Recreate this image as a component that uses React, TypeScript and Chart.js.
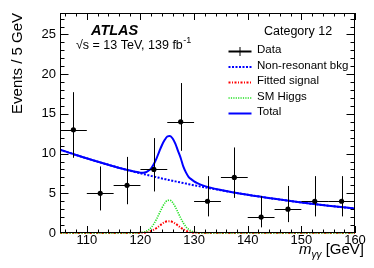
import React, { useEffect, useRef } from "react";
import { Chart, registerables } from "chart.js";

Chart.register(...registerables);

const FONT = '"Liberation Sans", Arial, Helvetica, sans-serif';

// ---- data ----
const binCenters = [107.5, 112.5, 117.5, 122.5, 127.5, 132.5, 137.5, 142.5, 147.5, 152.5, 157.5];
const binHalfWidth = 2.5;
const dataCounts = [13, 5, 6, 8, 14, 4, 7, 2, 3, 4, 4];
const errLow = [3.53, 2.16, 2.38, 2.77, 3.65, 1.91, 2.58, 1.29, 1.63, 1.91, 1.91];
const errHigh = [4.73, 3.38, 3.58, 3.95, 4.88, 3.16, 3.77, 2.64, 2.92, 3.16, 3.16];

const curveMass = [105, 108, 111, 114, 117, 119, 120, 120.5, 121, 121.5, 122, 122.5, 123, 123.5, 124, 124.5, 125, 125.5, 126, 126.5, 127, 127.5, 128, 128.5, 129, 129.5, 130, 130.5, 132, 135, 140, 145, 150, 155, 160];
const bkgValues = [10.5, 9.82, 9.19, 8.59, 8.03, 7.68, 7.51, 7.43, 7.35, 7.27, 7.19, 7.11, 7.03, 6.95, 6.87, 6.8, 6.72, 6.65, 6.57, 6.5, 6.43, 6.36, 6.29, 6.22, 6.15, 6.08, 6.01, 5.95, 5.75, 5.38, 4.81, 4.3, 3.85, 3.44, 3.08];
const totalValues = [10.5, 9.82, 9.19, 8.59, 8.03, 7.72, 7.6, 7.58, 7.65, 7.85, 8.15, 8.68, 9.4, 10.25, 11.05, 11.7, 12.15, 12.22, 11.9, 11.25, 10.35, 9.45, 8.35, 7.6, 7.05, 6.75, 6.5, 6.3, 5.9, 5.42, 4.81, 4.3, 3.85, 3.44, 3.08];
const smHiggsValues = [0, 0, 0, 0, 0, 0, 0.05, 0.1, 0.2, 0.39, 0.7, 1.15, 1.75, 2.44, 3.15, 3.74, 4.09, 4.12, 3.83, 3.28, 2.59, 1.88, 1.26, 0.78, 0.44, 0.23, 0.11, 0.05, 0, 0, 0, 0, 0, 0, 0];
const fittedSignalValues = [0, 0, 0, 0, 0, 0, 0.02, 0.03, 0.07, 0.14, 0.25, 0.42, 0.63, 0.88, 1.14, 1.35, 1.48, 1.49, 1.38, 1.19, 0.94, 0.68, 0.46, 0.28, 0.16, 0.08, 0.04, 0.02, 0, 0, 0, 0, 0, 0, 0];

const xTickValues = [110, 120, 130, 140, 150, 160];
const yTickValues = [0, 5, 10, 15, 20, 25];
const xMin = 105;
const xMax = 160;
const yMin = 0;
const yMax = 27.7;

const legendLabels = ["Data", "Non-resonant bkg", "Fitted signal", "SM Higgs", "Total"];

// ---- styles ----
const BLUE = "#0000ff";
const RED = "#ff0000";
const GREEN = "#22e022";

const pts = (vals: number[]) => curveMass.map((m, i) => ({ x: m, y: vals[i] }));

const atlasPlugin = {
  id: "atlasDecor",
  afterDatasetsDraw(chart: any) {
    const ctx: CanvasRenderingContext2D = chart.ctx;
    const xs = chart.scales.x;
    const ys = chart.scales.y;
    const { left, right, top, bottom } = chart.chartArea;
    ctx.save();

    // error bars
    ctx.strokeStyle = "#000";
    ctx.lineWidth = 1;
    binCenters.forEach((c, i) => {
      const px = Math.round(xs.getPixelForValue(c)) + 0.5;
      const py = Math.round(ys.getPixelForValue(dataCounts[i])) + 0.5;
      const x0 = xs.getPixelForValue(c - binHalfWidth);
      const x1 = xs.getPixelForValue(c + binHalfWidth);
      const yLo = ys.getPixelForValue(dataCounts[i] - errLow[i]);
      const yHi = ys.getPixelForValue(dataCounts[i] + errHigh[i]);
      ctx.beginPath();
      ctx.moveTo(x0, py);
      ctx.lineTo(x1, py);
      ctx.moveTo(px, yLo);
      ctx.lineTo(px, yHi);
      ctx.stroke();
    });

    // frame
    ctx.strokeStyle = "#000";
    ctx.lineWidth = 1;
    ctx.strokeRect(left + 0.5, top + 0.5, right - left - 1, bottom - top - 1);

    // ticks
    ctx.beginPath();
    for (let v = 106; v <= xMax; v += 2) {
      const major = xTickValues.includes(v);
      const len = major ? 7 : 3.5;
      const px = Math.round(xs.getPixelForValue(v)) + 0.5;
      ctx.moveTo(px, bottom);
      ctx.lineTo(px, bottom - len);
      ctx.moveTo(px, top);
      ctx.lineTo(px, top + len);
    }
    for (let v = 1; v <= 27; v += 1) {
      const major = yTickValues.includes(v);
      const len = major ? 8.5 : 4.5;
      const py = Math.round(ys.getPixelForValue(v)) + 0.5;
      ctx.moveTo(left, py);
      ctx.lineTo(left + len, py);
      ctx.moveTo(right, py);
      ctx.lineTo(right - len, py);
    }
    ctx.stroke();

    // ATLAS label
    ctx.fillStyle = "#000";
    ctx.textBaseline = "alphabetic";
    ctx.textAlign = "left";
    ctx.font = `italic bold 14.5px ${FONT}`;
    ctx.fillText("ATLAS", 91, 35);

    ctx.font = `12.5px ${FONT}`;
    const main = "\u221As = 13 TeV, 139 fb";
    ctx.fillText(main, 76, 49);
    const wMain = ctx.measureText(main).width;
    ctx.font = `9px ${FONT}`;
    ctx.fillText("-1", 76 + wMain + 0.5, 43);

    // Category
    ctx.font = `12.5px ${FONT}`;
    ctx.fillText("Category 12", 264, 35);

    // legend
    const rowY = [50, 65.5, 81, 96.5, 112];
    const lx0 = 228.5;
    const lx1 = 251.5;
    ctx.font = `11.5px ${FONT}`;
    ctx.textBaseline = "middle";
    const styles: any[] = [
      null,
      { c: BLUE, d: [2, 1.5], w: 2 },
      { c: RED, d: [2, 1.5, 1, 1.5], w: 2 },
      { c: GREEN, d: [1.2, 1.2], w: 1.6 },
      { c: BLUE, d: [], w: 2 },
    ];
    legendLabels.forEach((lab, i) => {
      const y = rowY[i];
      const ly = y + 1.5;
      ctx.save();
      if (i === 0) {
        ctx.strokeStyle = "#000";
        ctx.lineWidth = 2;
        ctx.beginPath();
        ctx.moveTo(lx0, ly);
        ctx.lineTo(lx1, ly);
        ctx.stroke();
        ctx.lineWidth = 1;
        ctx.beginPath();
        ctx.moveTo((lx0 + lx1) / 2, ly - 4.5);
        ctx.lineTo((lx0 + lx1) / 2, ly + 4.5);
        ctx.stroke();
      } else {
        const s = styles[i];
        ctx.strokeStyle = s.c;
        ctx.lineWidth = s.w;
        ctx.setLineDash(s.d);
        ctx.beginPath();
        ctx.moveTo(lx0, ly);
        ctx.lineTo(lx1, ly);
        ctx.stroke();
      }
      ctx.restore();
      ctx.fillStyle = "#000";
      ctx.fillText(lab, 257, y);
    });

    // x-axis title
    ctx.textBaseline = "alphabetic";
    ctx.font = `italic 15px ${FONT}`;
    const wm = ctx.measureText("m").width;
    ctx.font = `italic 10px ${FONT}`;
    const wg = ctx.measureText("\u03B3\u03B3").width;
    ctx.font = `15px ${FONT}`;
    const rest = " [GeV]";
    const wr = ctx.measureText(rest).width;
    let x = 364 - (wm + wg + wr);
    ctx.font = `italic 15px ${FONT}`;
    ctx.fillText("m", x, 253.5);
    x += wm;
    ctx.font = `italic 10px ${FONT}`;
    ctx.fillText("\u03B3\u03B3", x, 257.5);
    x += wg;
    ctx.font = `15px ${FONT}`;
    ctx.fillText(rest, x, 253.5);

    // y-axis title
    ctx.save();
    ctx.translate(18, 13);
    ctx.rotate(-Math.PI / 2);
    ctx.textAlign = "right";
    ctx.textBaseline = "middle";
    ctx.font = `15px ${FONT}`;
    ctx.fillText("Events / 5 GeV", 0, 0);
    ctx.restore();

    ctx.restore();
  },
};

export default function App() {
  const ref = useRef<HTMLCanvasElement | null>(null);
  useEffect(() => {
    if (!ref.current) return;
    const chart = new Chart(ref.current, {
      type: "line",
      data: {
        datasets: [
          {
            label: "Data",
            data: binCenters.map((c, i) => ({ x: c, y: dataCounts[i] })),
            showLine: false,
            pointRadius: 2.6,
            pointBackgroundColor: "#000",
            pointBorderWidth: 0,
            borderColor: "#000",
          },
          {
            label: "SM Higgs",
            data: pts(smHiggsValues),
            borderColor: GREEN,
            borderWidth: 1.6,
            borderDash: [1.2, 1.2],
            pointRadius: 0,
            cubicInterpolationMode: "monotone",
            clip: 2,
          },
          {
            label: "Fitted signal",
            data: pts(fittedSignalValues),
            borderColor: RED,
            borderWidth: 2,
            borderDash: [2, 1.5, 1, 1.5],
            pointRadius: 0,
            cubicInterpolationMode: "monotone",
            clip: 2,
          },
          {
            label: "Total",
            data: pts(totalValues),
            borderColor: BLUE,
            borderWidth: 2,
            pointRadius: 0,
            cubicInterpolationMode: "monotone",
          },
          {
            label: "Non-resonant bkg",
            data: pts(bkgValues),
            borderColor: BLUE,
            borderWidth: 2,
            borderDash: [2, 1.5],
            pointRadius: 0,
            cubicInterpolationMode: "monotone",
          },
        ],
      },
      options: {
        responsive: false,
        devicePixelRatio: 1,
        animation: false,
        events: [],
        layout: { padding: { left: 0, top: 13, right: 19, bottom: 0 } },
        plugins: { legend: { display: false }, tooltip: { enabled: false }, title: { display: false } },
        scales: {
          x: {
            type: "linear",
            min: xMin,
            max: xMax,
            grid: { display: false, drawTicks: false },
            border: { display: false },
            afterBuildTicks: (s: any) => {
              s.ticks = xTickValues.map((v) => ({ value: v }));
            },
            afterFit: (s: any) => {
              s.height = 35;
            },
            ticks: {
              color: "#000",
              padding: 0,
              maxRotation: 0,
              autoSkip: false,
              font: { family: FONT, size: 13 },
              callback: (v: any) => String(v),
            },
          },
          y: {
            type: "linear",
            min: yMin,
            max: yMax,
            grid: { display: false, drawTicks: false },
            border: { display: false },
            afterBuildTicks: (s: any) => {
              s.ticks = yTickValues.map((v) => ({ value: v }));
            },
            afterFit: (s: any) => {
              s.width = 60;
            },
            ticks: {
              color: "#000",
              padding: 4,
              autoSkip: false,
              font: { family: FONT, size: 13 },
              callback: (v: any) => String(v),
            },
          },
        },
      },
      plugins: [atlasPlugin],
    } as any);
    return () => chart.destroy();
  }, []);
  return (
    <div style={{ position: "fixed", left: 0, top: 0, width: 374, height: 268, background: "#fff" }}>
      <canvas ref={ref} width={374} height={268} style={{ display: "block" }} />
    </div>
  );
}
